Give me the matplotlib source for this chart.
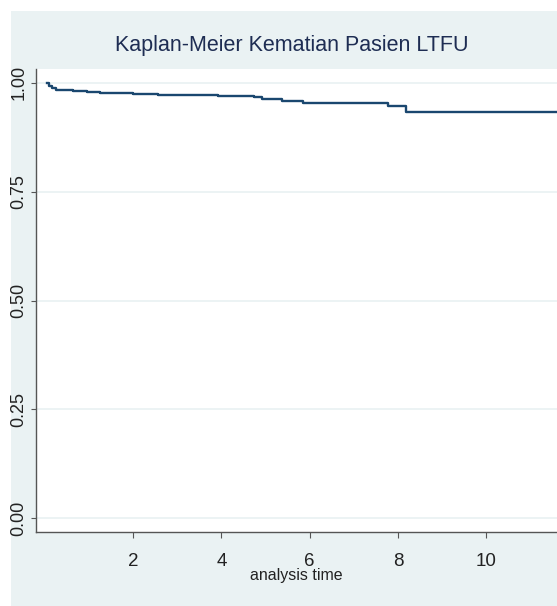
import numpy as np
import matplotlib
matplotlib.use('Agg')
import matplotlib.pyplot as plt
from matplotlib.patches import Rectangle

# ========================
# DATA
# ========================
time_points = [0.05, 0.10, 0.16, 0.26, 0.64, 0.96, 1.24, 1.99, 2.56,
               3.93, 4.74, 4.92, 5.37, 5.85, 7.77, 8.17, 12.0]
survival = [1.000, 0.993, 0.988, 0.984, 0.981, 0.978, 0.976, 0.974, 0.972,
            0.970, 0.968, 0.963, 0.959, 0.954, 0.947, 0.933, 0.933]

y_ticks = [0.00, 0.25, 0.50, 0.75, 1.00]
y_tick_labels = ['0.00', '0.25', '0.50', '0.75', '1.00']
x_ticks = [2, 4, 6, 8, 10]
x_tick_labels = ['2', '4', '6', '8', '10']

TITLE = 'Kaplan-Meier Kematian Pasien LTFU'
XLABEL = 'analysis time'

# ========================
# STYLE
# ========================
FONT = ['Liberation Sans', 'DejaVu Sans']
BG_OUTER = '#EAF2F3'
LINE_COLOR = '#1A476F'
TITLE_COLOR = '#1E2D53'
AXIS_COLOR = '#555555'

W, H = 557, 606
fig = plt.figure(figsize=(W / 100, H / 100), dpi=100, facecolor='white')

# light graph region (white strip on top and left)
fig.patches.append(Rectangle((11 / W, 0), 1 - 11 / W, 1 - 11 / H,
                             transform=fig.transFigure, facecolor=BG_OUTER,
                             edgecolor='none', zorder=-5))

ax = fig.add_axes([36 / W, (H - 532) / H, 1 - 36 / W, (532 - 69) / H])
ax.set_zorder(1)
ax.set_facecolor('white')

ax.step(time_points, survival, where='post', color=LINE_COLOR,
        linewidth=1.7, zorder=3)

ax.set_xlim(-0.2, 11.6)
ax.set_ylim(-0.032, 1.032)

ax.set_yticks(y_ticks)
ax.set_yticklabels(y_tick_labels, rotation=90, va='center',
                   family=FONT, fontsize=13, color='#222222')
ax.set_xticks(x_ticks)
ax.set_xticklabels(x_tick_labels, family=FONT, fontsize=13.5,
                   color='#222222')

ax.grid(True, axis='y', color=BG_OUTER, linewidth=1.3, zorder=1)
ax.grid(False, axis='x')

for side in ['top', 'right']:
    ax.spines[side].set_visible(False)
for side in ['left', 'bottom']:
    ax.spines[side].set_color(AXIS_COLOR)
    ax.spines[side].set_linewidth(1.0)

ax.tick_params(axis='y', direction='out', length=3.6, width=0.8,
               color=AXIS_COLOR, pad=2.5)
ax.tick_params(axis='x', direction='out', length=4.3, width=0.8,
               color=AXIS_COLOR, pad=10.5)

ax.set_xlabel(XLABEL, family=FONT, fontsize=11.5, color='#222222',
              labelpad=-1)
fig.text(292 / W, 1 - 46 / H, TITLE, family=FONT, fontsize=15.5,
         color=TITLE_COLOR, ha='center', va='center')

fig.savefig('out.png', dpi=100, facecolor='white')
